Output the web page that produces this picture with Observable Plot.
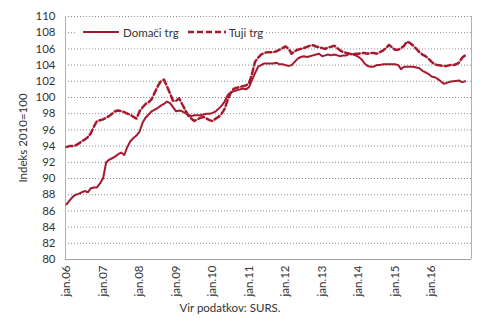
<!DOCTYPE html>
<html><head><meta charset="utf-8">
<script src="https://cdn.jsdelivr.net/npm/d3@7"></script>
<script src="https://cdn.jsdelivr.net/npm/@observablehq/plot@0.6"></script>
<style>
body{margin:0;background:#fff;font-family:Lato,sans-serif;}
#wrap{position:relative;width:490px;height:322px;overflow:hidden;}
#legend{position:absolute;left:75px;top:24px;width:189px;height:16px;background:#fff;font-size:11.5px;color:#333;display:flex;align-items:center;}
#legend svg{display:block;}
#caption{position:absolute;left:0;top:301px;width:460px;text-align:center;font-size:11.5px;color:#333;}
#ylabel{position:absolute;left:22px;top:138px;transform:translate(-50%,-50%) rotate(-90deg);white-space:nowrap;font-size:11.5px;color:#333;}
</style>
</head><body>
<div id="wrap"><div id="chart"></div>
<div id="ylabel">Indeks 2010=100</div>
<div id="legend">
 <svg width="8" height="16"></svg>
 <svg width="36" height="16"><line x1="0" x2="36" y1="8" y2="8" stroke="#a6192e" stroke-width="2"/></svg>
 <span style="margin-left:4px">Domači trg</span>
 <svg width="38" height="16" style="margin-left:9px"><line x1="0" x2="38" y1="8" y2="8" stroke="#a6192e" stroke-width="2.5" stroke-dasharray="6,3"/></svg>
 <span style="margin-left:3px">Tuji trg</span>
</div>
<div id="caption">Vir podatkov: SURS.</div>
</div>
<script>
const seriesNames = ["Domači trg", "Tuji trg"];
const startYear = 2006;
const domaci = [
 86.8,87.3,87.7,88.0,88.1,88.3,88.45,88.3,88.8,88.9,88.9,89.4,
 90.0,92.0,92.3,92.5,92.7,93.0,93.2,92.9,93.9,94.6,95.0,95.3,
 95.8,96.9,97.5,97.9,98.3,98.5,98.7,99.0,99.2,99.5,99.3,98.8,
 98.3,98.4,98.3,98.1,97.9,97.7,97.8,97.8,97.8,97.9,98.0,98.0,
 98.1,98.3,98.6,99.0,99.5,100.3,100.6,100.8,100.9,101.0,101.1,101.0,
 101.3,102.2,103.0,103.8,104.0,104.2,104.2,104.2,104.2,104.3,104.1,104.1,
 104.0,103.9,104.0,104.4,104.8,105.0,105.1,105.0,105.1,105.2,105.3,105.4,
 105.1,105.2,105.3,105.2,105.3,105.2,105.1,105.2,105.2,105.4,105.35,105.2,
 105.0,104.7,104.2,103.9,103.8,103.8,104.0,104.0,104.1,104.1,104.1,104.1,
 104.1,104.0,103.5,103.8,103.8,103.8,103.8,103.7,103.6,103.3,103.1,102.9,
 102.6,102.5,102.3,102.0,101.7,101.8,101.95,102.0,102.05,102.1,101.9,102.0
];
const tuji = [
 93.9,94.0,94.0,94.1,94.3,94.6,94.8,95.1,95.6,96.4,97.1,97.2,
 97.3,97.5,97.7,98.0,98.3,98.4,98.3,98.2,98.0,97.9,97.6,97.4,
 98.3,98.8,99.2,99.4,99.8,100.6,101.4,102.0,102.2,101.4,100.5,99.6,
 99.6,99.9,99.2,98.5,97.8,97.4,97.1,97.3,97.5,97.6,97.4,97.2,
 97.1,97.4,97.6,98.0,98.6,99.7,100.6,101.1,101.2,101.3,101.4,101.5,
 101.8,103.0,104.4,104.9,105.3,105.5,105.6,105.6,105.6,105.7,105.9,106.1,
 106.3,106.0,105.4,105.7,105.9,106.0,106.1,106.25,106.4,106.45,106.3,106.2,
 106.1,106.0,106.2,106.25,106.4,106.1,105.8,105.6,105.5,105.4,105.3,105.4,
 105.4,105.5,105.5,105.4,105.5,105.5,105.4,105.6,105.8,106.1,106.5,106.2,
 105.9,105.9,106.1,106.4,106.9,106.7,106.4,106.0,105.6,105.3,105.1,104.8,
 104.4,104.1,104.0,103.95,103.9,103.9,104.0,104.0,104.1,104.3,104.9,105.2
];
const yTicks = [80,82,84,86,88,90,92,94,96,98,100,102,104,106,108,110];
const xTickYears = [2006,2007,2008,2009,2010,2011,2012,2013,2014,2015,2016];

const red = "#a6192e";
const start = new Date(Date.UTC(startYear, 0, 1));
const rows = [];
[domaci, tuji].forEach((arr, si) => arr.forEach((v, i) => rows.push({s: seriesNames[si], date: d3.utcMonth.offset(start, i), v})));
const xStart = new Date(Date.UTC(2005, 11, 21));
const xEnd = new Date(Date.UTC(2017, 1, 3));
const xTicks = xTickYears.map(y => new Date(Date.UTC(y, 0, 1)));

const chart = Plot.plot({
  width: 490, height: 300,
  marginLeft: 65, marginRight: 19, marginTop: 16, marginBottom: 41,
  style: {fontFamily: "Lato, sans-serif", fontSize: "11.5px", color: "#333", background: "white"},
  x: {type: "utc", domain: [xStart, xEnd]},
  y: {domain: [80, 110]},
  marks: [
    Plot.gridY(yTicks.filter(v => v > 80), {stroke: "#8c8c8c", strokeOpacity: 1, strokeDasharray: "1,2"}),
    Plot.axisY({ticks: yTicks, tickSize: 0, tickPadding: 10, label: null}),
    Plot.axisX({ticks: xTicks, tickSize: 0, tickPadding: 6, tickRotate: -90,
      tickFormat: d => "jan." + String(d.getUTCFullYear() % 100).padStart(2, "0"), label: null}),
    Plot.ruleY([80], {stroke: "#a0a0a0"}),
    Plot.ruleX([xStart, xEnd], {stroke: "#b0b0b0"}),
    Plot.lineY(rows.filter(d => d.s === seriesNames[0]), {x: "date", y: "v", stroke: red, strokeWidth: 2}),
    Plot.lineY(rows.filter(d => d.s === seriesNames[1]), {x: "date", y: "v", stroke: red, strokeWidth: 2.5, strokeDasharray: "6,3"})
  ]
});
document.getElementById("chart").appendChild(chart);
</script>
</body></html>
